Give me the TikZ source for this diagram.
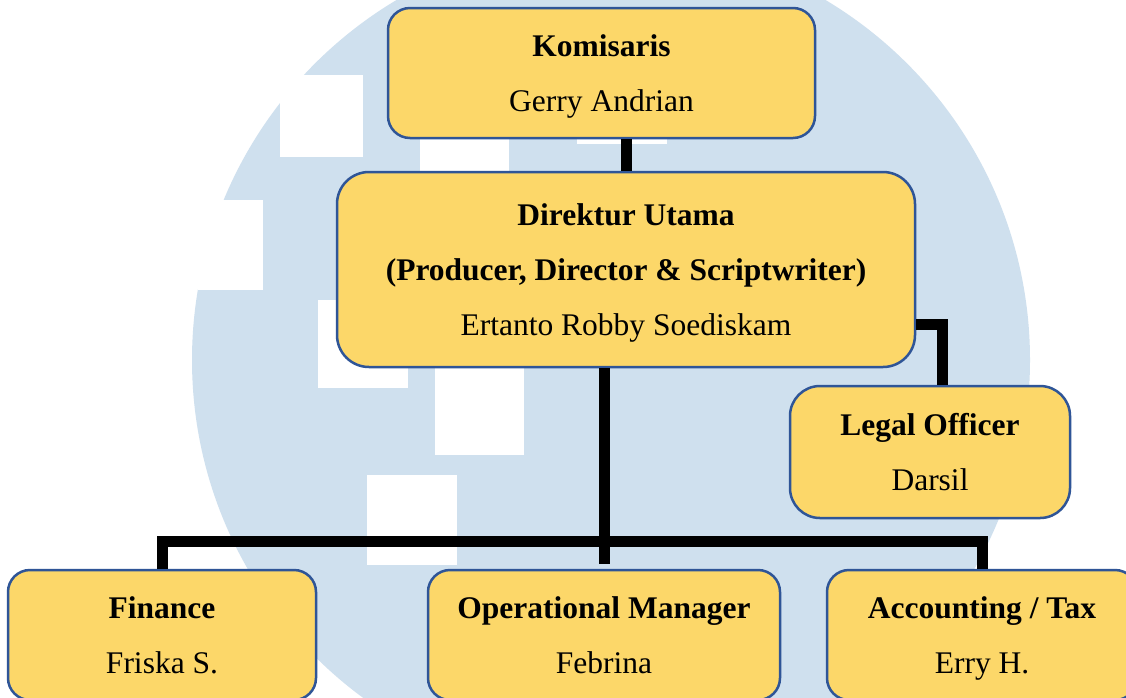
\documentclass[tikz,border=0pt]{standalone}
\usepackage{fontspec}
\setmainfont{Liberation Serif}
\usepackage{tikz}
\definecolor{boxyellow}{RGB}{252,215,105}
\definecolor{boxblue}{RGB}{47,85,151}
\definecolor{markblue}{RGB}{207,224,238}
\tikzset{
  post/.style={draw=boxblue, fill=boxyellow, line width=2.5pt, rounded corners=22pt,
               align=center, inner sep=0pt, font=\fontsize{31.5}{55}\selectfont},
  link/.style={line width=11pt, black}
}

\begin{document}
\begin{tikzpicture}[x=1pt,y=-1pt]

        % --- Frame and watermark
        \useasboundingbox (0,0) rectangle (1126,697);
        \clip (0,0) rectangle (1126,697);
        \fill[white] (0,0) rectangle (1126,697);
        \fill[markblue] (611,360) circle (419pt);
        \fill[white] (280,75) rectangle (363,157);
        \fill[white] (198,200) rectangle (263,290);
        \fill[white] (318,300) rectangle (408,388);
        \fill[white] (435,368) rectangle (524,455);
        \fill[white] (367,475) rectangle (457,565);
        \fill[white] (420,85) rectangle (509,175);
        \fill[white] (577,60) rectangle (667,144);

        % --- Posts
        \node[post, minimum width=427pt, minimum height=130pt] (kom) at (601.5,73)
          {\strut\textbf{Komisaris}\\Gerry Andrian\strut};
        \node[post, minimum width=578pt, minimum height=195pt, rounded corners=32pt] (dir) at (626,269.5)
          {\strut\textbf{Direktur Utama}\\\textbf{(Producer, Director \& Scriptwriter)}\\Ertanto Robby Soediskam\strut};
        \node[post, minimum width=280pt, minimum height=132pt, rounded corners=30pt] (leg) at (930,452)
          {\strut\textbf{Legal Officer}\\Darsil\strut};
        \node[post, minimum width=308pt, minimum height=130pt] (fin) at (162,635)
          {\strut\textbf{Finance}\\Friska S.\strut};
        \node[post, minimum width=352pt, minimum height=130pt] (opm) at (604,635)
          {\strut\textbf{Operational Manager}\\Febrina\strut};
        \node[post, minimum width=310pt, minimum height=130pt] (acc) at (982,635)
          {\strut\textbf{Accounting / Tax}\\Erry H.\strut};

        % --- Lines
        \coordinate (bar) at (0,541);
        \draw[link] (kom.south -| dir.north) -- (dir.north);
        \draw[link, shorten >=5pt] (dir.south -| opm.north) -- (opm.north);
        \draw[link] (fin.north) |- (bar -| acc.north) -- (acc.north);
        \draw[link] ([yshift=-55pt]dir.east) -| ([xshift=12pt]leg.north);

\end{tikzpicture}
\end{document}
